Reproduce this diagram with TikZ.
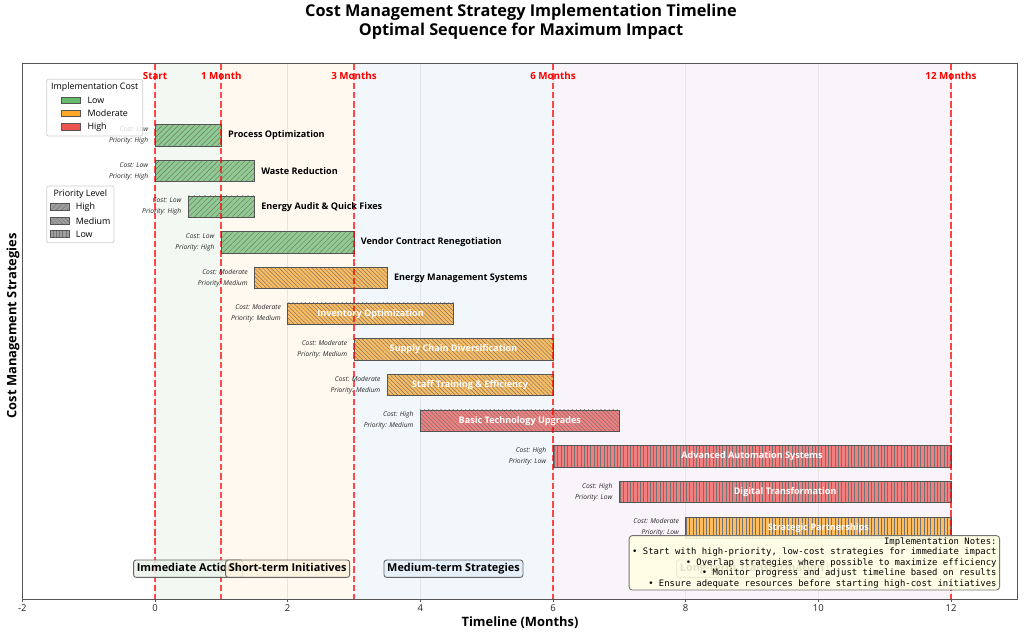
\documentclass[tikz,border=0pt]{standalone}
\usepackage{fontspec}
\setmainfont{Open Sans}
\setmonofont{DejaVu Sans Mono}
\usetikzlibrary{patterns.meta}
\definecolor{cLow}{HTML}{66BB6A}
\definecolor{cMod}{HTML}{FFA726}
\definecolor{cHigh}{HTML}{EF5350}
\definecolor{bgA}{HTML}{F3F8F3}
\definecolor{bgB}{HTML}{FFF9F0}
\definecolor{bgC}{HTML}{F2F7FC}
\definecolor{bgD}{HTML}{F9F4F9}
\definecolor{edgec}{HTML}{555555}
\definecolor{vred}{HTML}{FF0000}
\definecolor{noteY}{HTML}{FFFFE3}
\definecolor{phA}{HTML}{EAF4EA}
\definecolor{phB}{HTML}{FFF3E0}
\definecolor{phC}{HTML}{E3EFFA}
\definecolor{phD}{HTML}{F5EAF5}
\tikzset{
  hatchH/.style={pattern={Lines[angle=45,distance=3.8pt,line width=0.45pt]},pattern color=black!55},
  hatchM/.style={pattern={Lines[angle=-45,distance=2.9pt,line width=0.45pt]},pattern color=black!55},
  hatchL/.style={pattern={Lines[angle=90,distance=3.3pt,line width=0.45pt]},pattern color=black!55},
  baredge/.style={draw=edgec, line width=0.9pt},
  tasklbl/.style={font=\fontsize{9.1}{11}\selectfont\bfseries, inner sep=0pt},
  inlbl/.style={tasklbl, text=white},
  cplbl/.style={font=\fontsize{6.7}{11}\selectfont\itshape, align=right, anchor=east, inner sep=0pt, text=black!85},
  mslbl/.style={font=\fontsize{9.8}{11}\selectfont\bfseries, text=vred, inner sep=0pt},
  ticklbl/.style={font=\fontsize{9.5}{11}\selectfont, text=black!85, inner sep=0pt},
  phaselbl/.style={draw=black!60, rounded corners=2.5pt, line width=0.9pt, fill opacity=0.85, text opacity=1,
    font=\fontsize{10.9}{13}\selectfont\bfseries, inner xsep=3.2pt, inner ysep=0pt, minimum height=17.3pt,
    text height=8pt, text depth=2.6pt},
  legframe/.style={draw=black!18, fill=white, fill opacity=0.8, rounded corners=2pt, line width=0.8pt},
  legtitle/.style={font=\fontsize{8.9}{11}\selectfont, inner sep=0pt},
  legtxt/.style={font=\fontsize{8.9}{11}\selectfont, anchor=west, inner sep=0pt},
  vline/.style={draw=vred, draw opacity=0.7, line width=1.8pt, dash pattern=on 6.5pt off 2.8pt},
  gridln/.style={draw=black!10, line width=0.8pt},
  axlbl/.style={font=\fontsize{12.9}{15}\selectfont\bfseries, inner sep=0pt},
  legpatch/.style={draw=edgec, line width=0.8pt},
}
\newcommand\taskbar[5]{%
  \fill[#4, fill opacity=0.72] (#2,#1-0.3) rectangle (#3,#1+0.3);
  \fill[#5, fill opacity=0.8] (#2,#1-0.3) rectangle (#3,#1+0.3);
  \draw[baredge] (#2,#1-0.3) rectangle (#3,#1+0.3);}
\newcommand\costprio[4]{\node[cplbl] (cp#1) at (#2-0.1,#1) {Cost: #3\\Priority: #4};}
\begin{document}
\begin{tikzpicture}[x=1pt,y=-1pt]
\useasboundingbox (0,0) rectangle (1024,637);
\fill[white] (0,0) rectangle (1024,637);
% title
\node[font=\fontsize{16.3}{19}\selectfont\bfseries, align=center, inner sep=0pt] (title) at (521,22)
  {Cost Management Strategy Implementation Timeline\\Optimal Sequence for Maximum Impact};
\begin{scope}[xshift=155pt, yshift=-135.33pt, x=66.333pt, y=-35.667pt]
  % phase backgrounds
  \fill[bgA] (0,-2) rectangle (1,13);
  \fill[bgB] (1,-2) rectangle (3,13);
  \fill[bgC] (3,-2) rectangle (6,13);
  \fill[bgD] (6,-2) rectangle (12,13);
  % grid
  \foreach \gx in {0,2,4,6,8,10,12} {\draw[gridln] (\gx,-2) -- (\gx,13);}
  % bars
  \taskbar{0}{0}{1}{cLow}{hatchH}
  \taskbar{1}{0}{1.5}{cLow}{hatchH}
  \taskbar{2}{0.5}{1.5}{cLow}{hatchH}
  \taskbar{3}{1}{3}{cLow}{hatchH}
  \taskbar{4}{1.5}{3.5}{cMod}{hatchM}
  \taskbar{5}{2}{4.5}{cMod}{hatchM}
  \taskbar{6}{3}{6}{cMod}{hatchM}
  \taskbar{7}{3.5}{6}{cMod}{hatchM}
  \taskbar{8}{4}{7}{cHigh}{hatchM}
  \taskbar{9}{6}{12}{cHigh}{hatchL}
  \taskbar{10}{7}{12}{cHigh}{hatchL}
  \taskbar{11}{8}{12}{cMod}{hatchL}
  % milestone lines
  \foreach \mx in {0,1,3,6,12} {\draw[vline] (\mx,-2) -- (\mx,13);}
  % frame and ticks
  \draw[edgec, line width=1pt] (-2,-2) rectangle (13,13);
  \foreach \tx in {-2,0,2,4,6,8,10,12} {
    \draw[edgec, line width=0.8pt] (\tx,13) -- ++(0pt,-3.2pt);
    \node[ticklbl] (tk\tx) at (\tx,13.26) {\tx};}
  % milestone labels
  \node[mslbl] (m0) at (0,-1.665) {Start};
  \node[mslbl] (m1) at (1,-1.665) {1 Month};
  \node[mslbl] (m3) at (3,-1.665) {3 Months};
  \node[mslbl] (m6) at (6,-1.665) {6 Months};
  \node[mslbl] (m12) at (12,-1.665) {12 Months};
  % task labels
  \node[tasklbl, anchor=west] (t0) at (1.1,0) {Process Optimization};
  \node[tasklbl, anchor=west] (t1) at (1.6,1) {Waste Reduction};
  \node[tasklbl, anchor=west] (t2) at (1.6,2) {Energy Audit \& Quick Fixes};
  \node[tasklbl, anchor=west] (t3) at (3.1,3) {Vendor Contract Renegotiation};
  \node[tasklbl, anchor=west] (t4) at (3.6,4) {Energy Management Systems};
  \node[inlbl] (t5) at (3.25,5) {Inventory Optimization};
  \node[inlbl] (t6) at (4.5,6) {Supply Chain Diversification};
  \node[inlbl] (t7) at (4.75,7) {Staff Training \& Efficiency};
  \node[inlbl] (t8) at (5.5,8) {Basic Technology Upgrades};
  \node[inlbl] (t9) at (9,9) {Advanced Automation Systems};
  \node[inlbl] (t10) at (9.5,10) {Digital Transformation};
  \node[inlbl] (t11) at (10,11) {Strategic Partnerships};
  % cost / priority
  \costprio{0}{0}{Low}{High}
  \costprio{1}{0}{Low}{High}
  \costprio{2}{0.5}{Low}{High}
  \costprio{3}{1}{Low}{High}
  \costprio{4}{1.5}{Moderate}{Medium}
  \costprio{5}{2}{Moderate}{Medium}
  \costprio{6}{3}{Moderate}{Medium}
  \costprio{7}{3.5}{Moderate}{Medium}
  \costprio{8}{4}{High}{Medium}
  \costprio{9}{6}{High}{Low}
  \costprio{10}{7}{High}{Low}
  \costprio{11}{8}{Moderate}{Low}
  % phase labels
  \node[phaselbl, fill=phA] (ph1) at (0.5,12.15) {Immediate Actions};
  \node[phaselbl, fill=phB] (ph2) at (2,12.15) {Short-term Initiatives};
  \node[phaselbl, fill=phC] (ph3) at (4.5,12.15) {Medium-term Strategies};
  \node[phaselbl, fill=phD] (ph4) at (9,12.15) {Long-term Transformation};
\end{scope}
% axis labels
\node[axlbl] (xlab) at (520,623) {Timeline (Months)};
\node[axlbl, rotate=90] (ylab) at (13,326) {Cost Management Strategies};
% notes
\node[draw=black!55, fill=noteY, fill opacity=0.88, text opacity=1, rounded corners=3pt, line width=0.9pt,
  align=right, font=\fontsize{8.9}{10.4}\selectfont\ttfamily, inner xsep=3pt, inner ysep=2pt, anchor=east]
  (notes) at (1000,562.8)
  {Implementation Notes:\\
   • Start with high-priority, low-cost strategies for immediate impact\\
   • Overlap strategies where possible to maximize efficiency\\
   • Monitor progress and adjust timeline based on results\\
   • Ensure adequate resources before starting high-cost initiatives};
% legend 1
\path[legframe] (46.7,79.3) rectangle (142.7,136);
\node[legtitle] (lg1t) at (94.7,86.7) {Implementation Cost};
\fill[cLow] (61.3,97) rectangle (80,103.3); \draw[legpatch] (61.3,97) rectangle (80,103.3);
\fill[cMod] (61.3,110.3) rectangle (80,116.7); \draw[legpatch] (61.3,110.3) rectangle (80,116.7);
\fill[cHigh] (61.3,123.7) rectangle (80,130); \draw[legpatch] (61.3,123.7) rectangle (80,130);
\node[legtxt] (lg1a) at (87.3,100.2) {Low};
\node[legtxt] (lg1b) at (87.3,113.5) {Moderate};
\node[legtxt] (lg1c) at (87.3,126.8) {High};
% legend 2
\path[legframe] (46.7,186) rectangle (114,242.7);
\node[legtitle] (lg2t) at (80.3,194) {Priority Level};
\fill[black!38] (50,203.3) rectangle (69.3,210); \fill[hatchH] (50,203.3) rectangle (69.3,210); \draw[legpatch] (50,203.3) rectangle (69.3,210);
\fill[black!38] (50,217.3) rectangle (69.3,224); \fill[hatchM] (50,217.3) rectangle (69.3,224); \draw[legpatch] (50,217.3) rectangle (69.3,224);
\fill[black!38] (50,230.7) rectangle (69.3,237.3); \fill[hatchL] (50,230.7) rectangle (69.3,237.3); \draw[legpatch] (50,230.7) rectangle (69.3,237.3);
\node[legtxt] (lg2a) at (75.7,206.7) {High};
\node[legtxt] (lg2b) at (75.7,220.7) {Medium};
\node[legtxt] (lg2c) at (75.7,234) {Low};
\end{tikzpicture}
\end{document}
